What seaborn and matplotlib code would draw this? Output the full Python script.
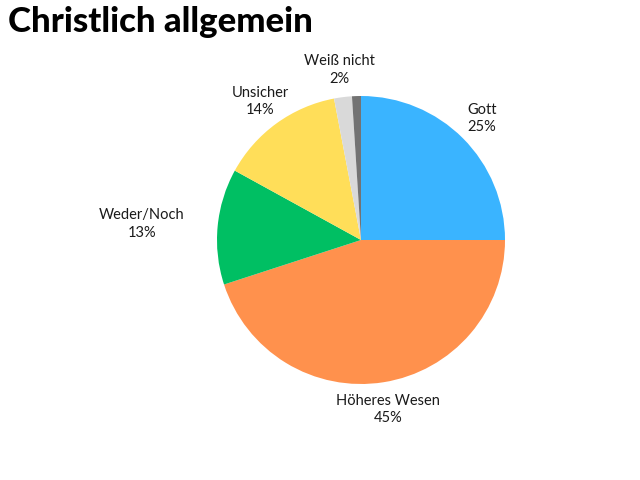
import matplotlib
matplotlib.use("Agg")
import matplotlib.pyplot as plt
import seaborn as sns
import numpy as np

categories = ["Gott", "Höheres Wesen", "Weder/Noch", "Unsicher", "Weiß nicht", "Keine Angabe"]
values = [25, 45, 13, 14, 2, 1]
show_label = [True, True, True, True, True, False]
colors = ["#3AB4FF", "#FF914D", "#00BF63", "#FFDE59", "#D9D9D9", "#737373"]
title = "Christlich allgemein"

sns.set_theme(style="white")
plt.rcParams["font.family"] = ["Lato", "DejaVu Sans"]

fig = plt.figure(figsize=(6.4, 4.8), dpi=100)
cx, cy, r = 361, 240, 144
ax = fig.add_axes([(cx - r) / 640, (480 - cy - r) / 480, 2 * r / 640, 2 * r / 480])

wedges, _ = ax.pie(values, colors=colors, startangle=90, counterclock=False,
                   radius=1, wedgeprops=dict(linewidth=0))
ax.set_xlim(-1, 1)
ax.set_ylim(-1, 1)
ax.set_aspect("equal")
ax.axis("off")

dist = 1.19
for w, cat, v, show in zip(wedges, categories, values, show_label):
    if not show:
        continue
    ang = np.deg2rad((w.theta1 + w.theta2) / 2)
    x, y = dist * np.cos(ang), dist * np.sin(ang)
    ha = "center"
    if np.cos(ang) < -0.9:
        ha = "right"
        x -= 0.04
    elif np.cos(ang) > 0.9:
        ha = "left"
        x += 0.04
    ax.text(x, y, f"{cat}\n{v}%", ha=ha, va="center", fontsize=10.5,
            color="#1a1a1a", linespacing=1.3, multialignment="center")

fig.text(8 / 640, 1 - 22 / 480, title, fontsize=25, fontweight="black",
         ha="left", va="center", color="#000000")

fig.savefig("out.png", dpi=100)
